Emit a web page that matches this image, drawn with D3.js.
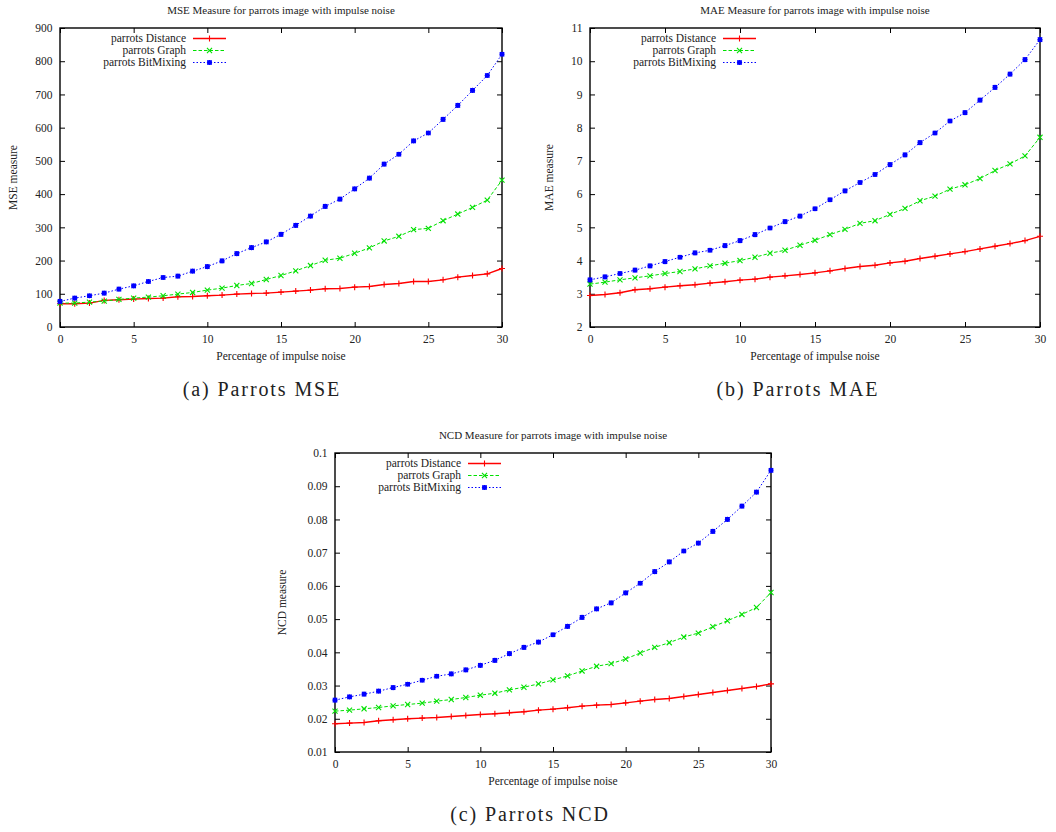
<!DOCTYPE html>
<html>
<head>
<meta charset="utf-8">
<script src="https://cdn.jsdelivr.net/npm/d3@7"></script>
<style>
  body { margin: 0; background: #fff; }
  svg text { font-family: "Liberation Serif", "Times New Roman", serif; fill: #222; }
</style>
</head>
<body>
<div id="chart"></div>
<script>

// percentage of impulse noise
var noise = [0, 1, 2, 3, 4, 5, 6, 7, 8, 9, 10, 11, 12, 13, 14, 15,
             16, 17, 18, 19, 20, 21, 22, 23, 24, 25, 26, 27, 28, 29, 30];

var seriesNames = ["parrots Distance", "parrots Graph", "parrots BitMixing"];

// (a) MSE
var mseDistance = [70, 70, 72, 80, 82, 84, 86, 87, 91, 92, 94, 96, 99, 101, 102, 105,
                   108, 111, 115, 116, 120, 122, 128, 131, 137, 137, 142, 150, 155, 160, 176];
var mseGraph = [72, 72, 75, 78, 83, 87, 90, 94, 99, 104, 111, 117, 125, 131, 143, 155,
                169, 185, 201, 207, 222, 238, 259, 273, 293, 297, 320, 340, 360, 382, 442];
var mseBitMixing = [77, 87, 94, 102, 114, 124, 137, 149, 153, 168, 182, 199, 221, 239, 256, 279,
                    306, 334, 363, 385, 416, 448, 490, 520, 560, 584, 625, 667, 712, 757, 821];
var mseTicks = [0, 100, 200, 300, 400, 500, 600, 700, 800, 900];

// (b) MAE
var maeDistance = [2.95, 2.98, 3.03, 3.12, 3.15, 3.2, 3.24, 3.27, 3.32, 3.36, 3.41, 3.44, 3.5, 3.54, 3.58, 3.63,
                   3.69, 3.76, 3.82, 3.86, 3.93, 3.98, 4.06, 4.13, 4.2, 4.27, 4.35, 4.43, 4.51, 4.6, 4.73];
var maeGraph = [3.29, 3.35, 3.42, 3.48, 3.54, 3.61, 3.67, 3.75, 3.84, 3.92, 4.0, 4.1, 4.22, 4.31, 4.46, 4.61,
                4.78, 4.94, 5.12, 5.2, 5.39, 5.57, 5.8, 5.94, 6.15, 6.28, 6.47, 6.71, 6.91, 7.15, 7.71];
var maeBitMixing = [3.42, 3.51, 3.61, 3.71, 3.84, 3.97, 4.1, 4.23, 4.31, 4.45, 4.6, 4.78, 4.98, 5.17, 5.34, 5.56,
                    5.83, 6.1, 6.35, 6.59, 6.89, 7.18, 7.55, 7.84, 8.2, 8.45, 8.83, 9.21, 9.61, 10.05, 10.65];
var maeTicks = [2, 3, 4, 5, 6, 7, 8, 9, 10, 11];

// (c) NCD
var ncdDistance = [0.0185, 0.0187, 0.0189, 0.0194, 0.0197, 0.0200, 0.0202, 0.0204, 0.0207, 0.0210, 0.0213,
                   0.0215, 0.0218, 0.0221, 0.0226, 0.0229, 0.0233, 0.0238, 0.0241, 0.0243, 0.0248,
                   0.0253, 0.0258, 0.0261, 0.0267, 0.0273, 0.0279, 0.0285, 0.0291, 0.0297, 0.0305];
var ncdGraph = [0.0223, 0.0226, 0.0230, 0.0234, 0.0239, 0.0243, 0.0247, 0.0253, 0.0258, 0.0264, 0.0271,
                0.0277, 0.0287, 0.0295, 0.0305, 0.0317, 0.0329, 0.0344, 0.0358, 0.0366, 0.0380,
                0.0398, 0.0415, 0.0429, 0.0446, 0.0458, 0.0477, 0.0495, 0.0514, 0.0535, 0.0580];
var ncdBitMixing = [0.0256, 0.0266, 0.0274, 0.0283, 0.0294, 0.0304, 0.0316, 0.0328, 0.0335, 0.0347, 0.0361,
                    0.0376, 0.0396, 0.0415, 0.0431, 0.0453, 0.0478, 0.0505, 0.0531, 0.0549, 0.0579,
                    0.0608, 0.0643, 0.0672, 0.0705, 0.0729, 0.0764, 0.0800, 0.0840, 0.0882, 0.0948];
var ncdTicks = [0.01, 0.02, 0.03, 0.04, 0.05, 0.06, 0.07, 0.08, 0.09, 0.1];

var xTicks = [0, 5, 10, 15, 20, 25, 30];

// line styles for the three series (gnuplot look)
var styles = [
  { color: "#ff0000", dash: null,    width: 1.4, mark: "plus" },
  { color: "#00e000", dash: "3.5,2", width: 1,   mark: "cross" },
  { color: "#0000ff", dash: "1.5,2", width: 1,   mark: "star" }
];

var panels = [
  { title: "MSE Measure for parrots image with impulse noise", ylabel: "MSE measure",
    caption: "(a) Parrots MSE", series: [mseDistance, mseGraph, mseBitMixing],
    yDomain: [0, 900], yTicks: mseTicks,
    left: 60, right: 502, top: 28, bottom: 327, ylabelX: 13, captionX: 262 },
  { title: "MAE Measure for parrots image with impulse noise", ylabel: "MAE measure",
    caption: "(b) Parrots MAE", series: [maeDistance, maeGraph, maeBitMixing],
    yDomain: [2, 11], yTicks: maeTicks,
    left: 590, right: 1040, top: 28, bottom: 327, ylabelX: 549, captionX: 798 },
  { title: "NCD Measure for parrots image with impulse noise", ylabel: "NCD measure",
    caption: "(c) Parrots NCD", series: [ncdDistance, ncdGraph, ncdBitMixing],
    yDomain: [0.01, 0.1], yTicks: ncdTicks,
    left: 335, right: 771, top: 453, bottom: 752, ylabelX: 282, captionX: 530 }
];

var svg = d3.select("#chart").append("svg")
            .attr("width", 1056)
            .attr("height", 832);

function markPath(kind) {
  var s = kind == "star" ? 2.6 : 3;
  var c = s * 0.85;
  var plus = "M" + (-s) + ",0H" + s + "M0," + (-s) + "V" + s;
  var cross = "M" + (-c) + "," + (-c) + "L" + c + "," + c +
              "M" + (-c) + "," + c + "L" + c + "," + (-c);
  if (kind == "plus") return plus;
  if (kind == "cross") return cross;
  // dense asterisk: a small filled square under the star
  return "M-1.8,-1.8H1.8V1.8H-1.8Z" + plus + cross;
}

function drawMark(sel, st) {
  sel.attr("d", markPath(st.mark))
     .attr("fill", st.mark == "star" ? st.color : "none")
     .attr("stroke", st.color)
     .attr("stroke-width", 1.1);
}

panels.forEach(function (p) {

  var w = p.right - p.left,
      h = p.bottom - p.top;

  var x = d3.scaleLinear().domain([0, 30]).range([0, w]);
  var y = d3.scaleLinear().domain(p.yDomain).range([h, 0]);

  var g = svg.append("g")
             .attr("transform", "translate(" + p.left + "," + p.top + ")");

  // axes with inward ticks, mirrored on top and right
  g.append("g")
      .attr("transform", "translate(0," + h + ")")
      .call(d3.axisBottom(x).tickValues(xTicks).tickSizeInner(-5).tickSizeOuter(0).tickPadding(8));
  g.append("g")
      .call(d3.axisTop(x).tickValues(xTicks).tickSizeInner(-5).tickSizeOuter(0).tickFormat(""));
  g.append("g")
      .call(d3.axisLeft(y).tickValues(p.yTicks).tickSizeInner(-5).tickSizeOuter(0).tickPadding(7.5)
              .tickFormat(function (d) { return String(d); }));
  g.append("g")
      .attr("transform", "translate(" + w + ",0)")
      .call(d3.axisRight(y).tickValues(p.yTicks).tickSizeInner(-5).tickSizeOuter(0).tickFormat(""));

  g.selectAll(".domain").remove();
  g.selectAll(".tick line").attr("stroke", "#000").attr("stroke-width", 1);
  g.selectAll(".tick text")
   .attr("font-family", "Liberation Serif, serif")
   .attr("font-size", "11.5px")
   .attr("fill", "#222");

  g.append("rect")
   .attr("width", w)
   .attr("height", h)
   .attr("fill", "none")
   .attr("stroke", "#000")
   .attr("stroke-width", 1.4);

  // series
  var line = d3.line()
               .x(function (d, i) { return x(noise[i]); })
               .y(function (d) { return y(d); });

  p.series.forEach(function (values, k) {
    var st = styles[k];
    g.append("path")
     .datum(values)
     .attr("d", line)
     .attr("fill", "none")
     .attr("stroke", st.color)
     .attr("stroke-width", st.width)
     .attr("stroke-dasharray", st.dash);

    g.selectAll(".mark" + k)
     .data(values)
     .enter().append("path")
     .attr("class", "mark" + k)
     .attr("transform", function (d, i) { return "translate(" + x(noise[i]) + "," + y(d) + ")"; })
     .call(drawMark, st);
  });

  // legend
  var legend = g.append("g").attr("transform", "translate(126,10.5)");
  seriesNames.forEach(function (name, k) {
    var st = styles[k];
    var row = legend.append("g").attr("transform", "translate(0," + (k * 12) + ")");
    row.append("text")
       .attr("text-anchor", "end")
       .attr("dy", "0.33em")
       .attr("font-size", "11.5px")
       .text(name);
    row.append("line")
       .attr("x1", 7).attr("x2", 40)
       .attr("stroke", st.color)
       .attr("stroke-width", st.width)
       .attr("stroke-dasharray", st.dash);
    row.append("path")
       .attr("transform", "translate(23.5,0)")
       .call(drawMark, st);
  });

  // titles
  svg.append("text")
     .attr("x", (p.left + p.right) / 2)
     .attr("y", p.top - 14)
     .attr("text-anchor", "middle")
     .attr("font-size", "11px")
     .text(p.title);

  svg.append("text")
     .attr("x", (p.left + p.right) / 2)
     .attr("y", p.bottom + 33)
     .attr("text-anchor", "middle")
     .attr("font-size", "11.5px")
     .text("Percentage of impulse noise");

  svg.append("text")
     .attr("transform", "translate(" + (p.ylabelX + 4) + "," + (p.top + h / 2) + ") rotate(-90)")
     .attr("text-anchor", "middle")
     .attr("font-size", "11.5px")
     .text(p.ylabel);

  svg.append("text")
     .attr("x", p.captionX)
     .attr("y", p.bottom + 69)
     .attr("text-anchor", "middle")
     .attr("font-size", "20px")
     .attr("letter-spacing", "1.9px")
     .attr("fill", "#111")
     .text(p.caption);
});

</script>
</body>
</html>
